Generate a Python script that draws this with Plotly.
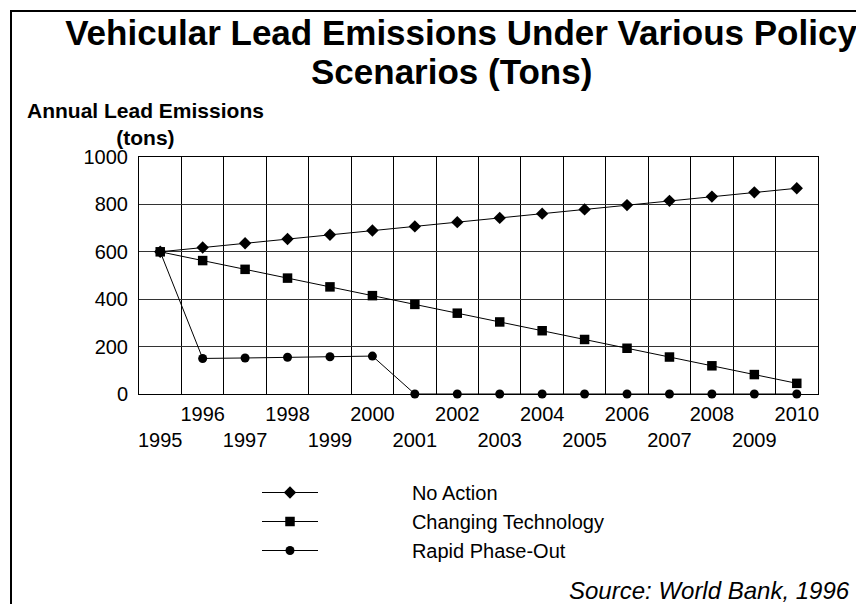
import plotly.graph_objects as go

years = [str(y) for y in range(1995, 2011)]
no_action = [600, 618, 636, 654, 672, 690, 707, 725, 743, 761, 779, 797, 815, 833, 851, 868]
changing_tech = [600, 563, 526, 489, 452, 415, 378, 341, 304, 267, 230, 193, 156, 119, 82, 45]
rapid_phase_out = [600, 150, 152, 155, 157, 160, 0, 0, 0, 0, 0, 0, 0, 0, 0, 0]
tick_labels = [y if int(y) % 2 == 0 else "<br>" + y for y in years]
y_ticks = [0, 200, 400, 600, 800, 1000]
series_names = ["No Action", "Changing Technology", "Rapid Phase-Out"]

FONT = "Liberation Sans, Arial, sans-serif"

fig = go.Figure()
# (values, symbol, size, legend rank); drawn so that squares sit on top
specs = [
    (series_names[0], no_action, "diamond", 9.5, 1),
    (series_names[2], rapid_phase_out, "circle", 9, 3),
    (series_names[1], changing_tech, "square", 9.5, 2),
]
pad = "\u00a0" * 16
for name, vals, sym, sz, rank in specs:
    fig.add_trace(go.Scatter(
        x=years, y=vals, name=pad + name, mode="lines+markers",
        line=dict(color="black", width=1),
        marker=dict(symbol=sym, size=sz, color="black"),
        cliponaxis=False, hoverinfo="skip", legendrank=rank,
    ))

L, R, T, B = 139, 38, 157, 210
W, H = 856, 604
pw, ph = W - L - R, H - T - B

def px(x):
    return (x - L) / pw

def py(y):
    return (H - B - y) / ph

fig.update_layout(
    width=W, height=H,
    margin=dict(l=L, r=R, t=T, b=B),
    paper_bgcolor="white", plot_bgcolor="white",
    font=dict(family=FONT, color="black", size=20),
    title=dict(
        text="<b>Vehicular Lead Emissions Under Various Policy</b>",
        font=dict(family=FONT, size=35, color="black"),
        x=461 / W, xanchor="center", xref="container",
        y=1 - 20 / H, yanchor="top", yref="container",
    ),
    xaxis=dict(
        type="category", categoryorder="array", categoryarray=years,
        range=[-0.5, len(years) - 0.5], autorange=False,
        tickmode="array", tickvals=years, ticktext=tick_labels,
        tickson="boundaries", showgrid=True, gridcolor="black", gridwidth=1,
        showline=True, linecolor="black", linewidth=1, mirror=True,
        ticks="", ticklabelstandoff=2, tickangle=0,
        tickfont=dict(family=FONT, size=20, color="black"),
    ),
    yaxis=dict(
        range=[0, 1000], autorange=False, tickmode="array", tickvals=y_ticks,
        showgrid=True, gridcolor="#333333", gridwidth=1, zeroline=False,
        showline=True, linecolor="black", linewidth=1, mirror=True,
        ticks="", ticklabelstandoff=6,
        tickfont=dict(family=FONT, size=20, color="black"),
    ),
    legend=dict(
        x=px(257), y=py(473), xanchor="left", yanchor="top",
        xref="paper", yref="paper",
        font=dict(family=FONT, size=20, color="black"),
        itemwidth=56, bgcolor="rgba(0,0,0,0)", borderwidth=0,
        tracegroupgap=0, traceorder="normal",
    ),
    showlegend=True,
    hovermode=False,
    annotations=[
        dict(text="<b>Scenarios (Tons)</b>", xref="paper", yref="paper",
             x=px(451), y=py(72), xanchor="center", yanchor="middle", showarrow=False,
             font=dict(family=FONT, size=35, color="black")),
        dict(text="<b>Annual Lead Emissions<br>(tons)</b>", xref="paper", yref="paper",
             x=px(145), y=py(97), xanchor="center", yanchor="top", showarrow=False,
             align="center", font=dict(family=FONT, size=21, color="black")),
        dict(text="<i>Source: World Bank, 1996</i>", xref="paper", yref="paper",
             x=px(852), y=py(590), xanchor="right", yanchor="middle", showarrow=False,
             font=dict(family=FONT, size=24, color="black")),
    ],
    shapes=[
        dict(type="rect", xref="paper", yref="paper",
             x0=px(11), y0=py(11), x1=px(900), y1=py(650),
             line=dict(color="black", width=2), fillcolor="rgba(0,0,0,0)", layer="below"),
    ],
)

fig.write_html(
    "out.html",
    config={"displayModeBar": False, "staticPlot": True},
    post_script="document.body.style.margin='0px';document.documentElement.style.overflow='hidden';",
)
